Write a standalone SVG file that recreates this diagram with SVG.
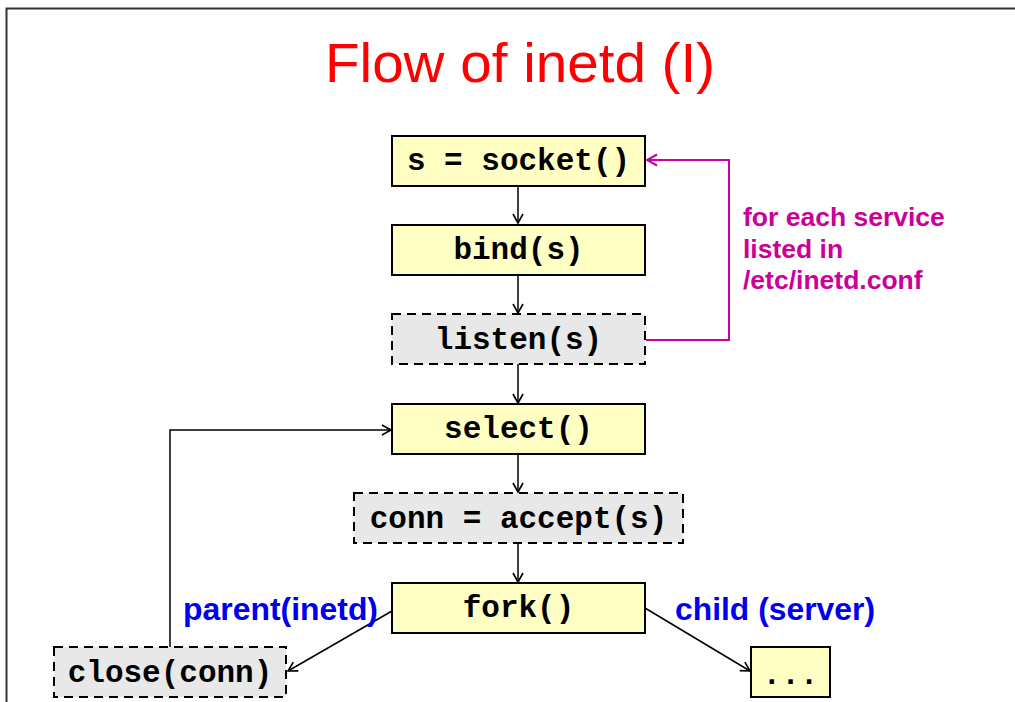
<svg xmlns="http://www.w3.org/2000/svg" width="1015" height="702" viewBox="0 0 1015 702">
<defs>
<style>
.box{fill:#ffffc4;stroke:#000;stroke-width:2}
.dbox{fill:#e8e8e8;stroke:#000;stroke-width:2;stroke-dasharray:9,6}
.code{font-family:"Liberation Mono","Courier New",monospace;font-weight:bold;font-size:31px;fill:#000;text-anchor:middle}
.lbl{font-family:"Liberation Sans",Arial,sans-serif;font-weight:bold;font-size:31px;fill:#0000ee}
.note{font-family:"Liberation Sans",Arial,sans-serif;font-weight:bold;font-size:26.5px;fill:#cc0099}
.conn{fill:none;stroke:#000;stroke-width:1.5}
.mconn{fill:none;stroke:#cc00a0;stroke-width:2}
</style>
<marker id="ah" markerWidth="12" markerHeight="12" refX="10" refY="6" orient="auto" markerUnits="userSpaceOnUse">
<path d="M1,1 L10,6 L1,11" fill="none" stroke="#000" stroke-width="1.6"/>
</marker>
<marker id="mah" markerWidth="14" markerHeight="14" refX="11" refY="7" orient="auto" markerUnits="userSpaceOnUse">
<path d="M1,1.5 L11,7 L1,12.5" fill="none" stroke="#cc00a0" stroke-width="2"/>
</marker>
</defs>
<rect width="1015" height="702" fill="#fff"/>
<path d="M6.5,702 V8.5 H1015" fill="none" stroke="#333" stroke-width="2"/>
<text x="520" y="82" font-family="Liberation Sans,Arial,sans-serif" font-size="56" fill="#ff0000" text-anchor="middle" textLength="390" lengthAdjust="spacingAndGlyphs">Flow of inetd (I)</text>

<g id="connectors">
<line class="conn" x1="518" y1="186" x2="518" y2="223" marker-end="url(#ah)"/>
<line class="conn" x1="518" y1="275" x2="518" y2="313" marker-end="url(#ah)"/>
<line class="conn" x1="518" y1="364" x2="518" y2="403" marker-end="url(#ah)"/>
<line class="conn" x1="518" y1="454" x2="518" y2="492" marker-end="url(#ah)"/>
<line class="conn" x1="518" y1="543" x2="518" y2="582" marker-end="url(#ah)"/>
<polyline class="conn" points="170,647 170,430 391,430" marker-end="url(#ah)"/>
<line class="conn" x1="392" y1="611" x2="288" y2="671" marker-end="url(#ah)"/>
<line class="conn" x1="645" y1="608" x2="750" y2="671" marker-end="url(#ah)"/>
<polyline class="mconn" points="646,340 729,340 729,160 647,160" marker-end="url(#mah)"/>
</g>

<g id="n-socket"><rect class="box" x="392" y="136" width="253" height="50"/><text class="code" x="518.5" y="170">s = socket()</text></g>
<g id="n-bind"><rect class="box" x="392" y="225" width="253" height="50"/><text class="code" x="518.5" y="259">bind(s)</text></g>
<g id="n-listen"><rect class="dbox" x="392" y="314" width="253" height="50"/><text class="code" x="518.5" y="349">listen(s)</text></g>
<g id="n-select"><rect class="box" x="392" y="404" width="253" height="50"/><text class="code" x="518.5" y="438">select()</text></g>
<g id="n-accept"><rect class="dbox" x="354" y="493" width="329" height="50"/><text class="code" x="518.5" y="528">conn = accept(s)</text></g>
<g id="n-fork"><rect class="box" x="392" y="583" width="253" height="50"/><text class="code" x="518.5" y="617">fork()</text></g>
<g id="n-close"><rect class="dbox" x="54" y="647" width="232" height="50"/><text class="code" x="170" y="682">close(conn)</text></g>
<g id="n-child"><rect class="box" x="751" y="647" width="79" height="50"/><text class="code" x="790.5" y="684">...</text></g>

<g id="labels">
<text class="lbl" x="183" y="620" textLength="195" lengthAdjust="spacingAndGlyphs">parent(inetd)</text>
<text class="lbl" x="675" y="620" textLength="200" lengthAdjust="spacingAndGlyphs">child (server)</text>
<text class="note" x="743" y="226">for each service</text>
<text class="note" x="743" y="258">listed in</text>
<text class="note" x="743" y="289">/etc/inetd.conf</text>
</g>
</svg>
